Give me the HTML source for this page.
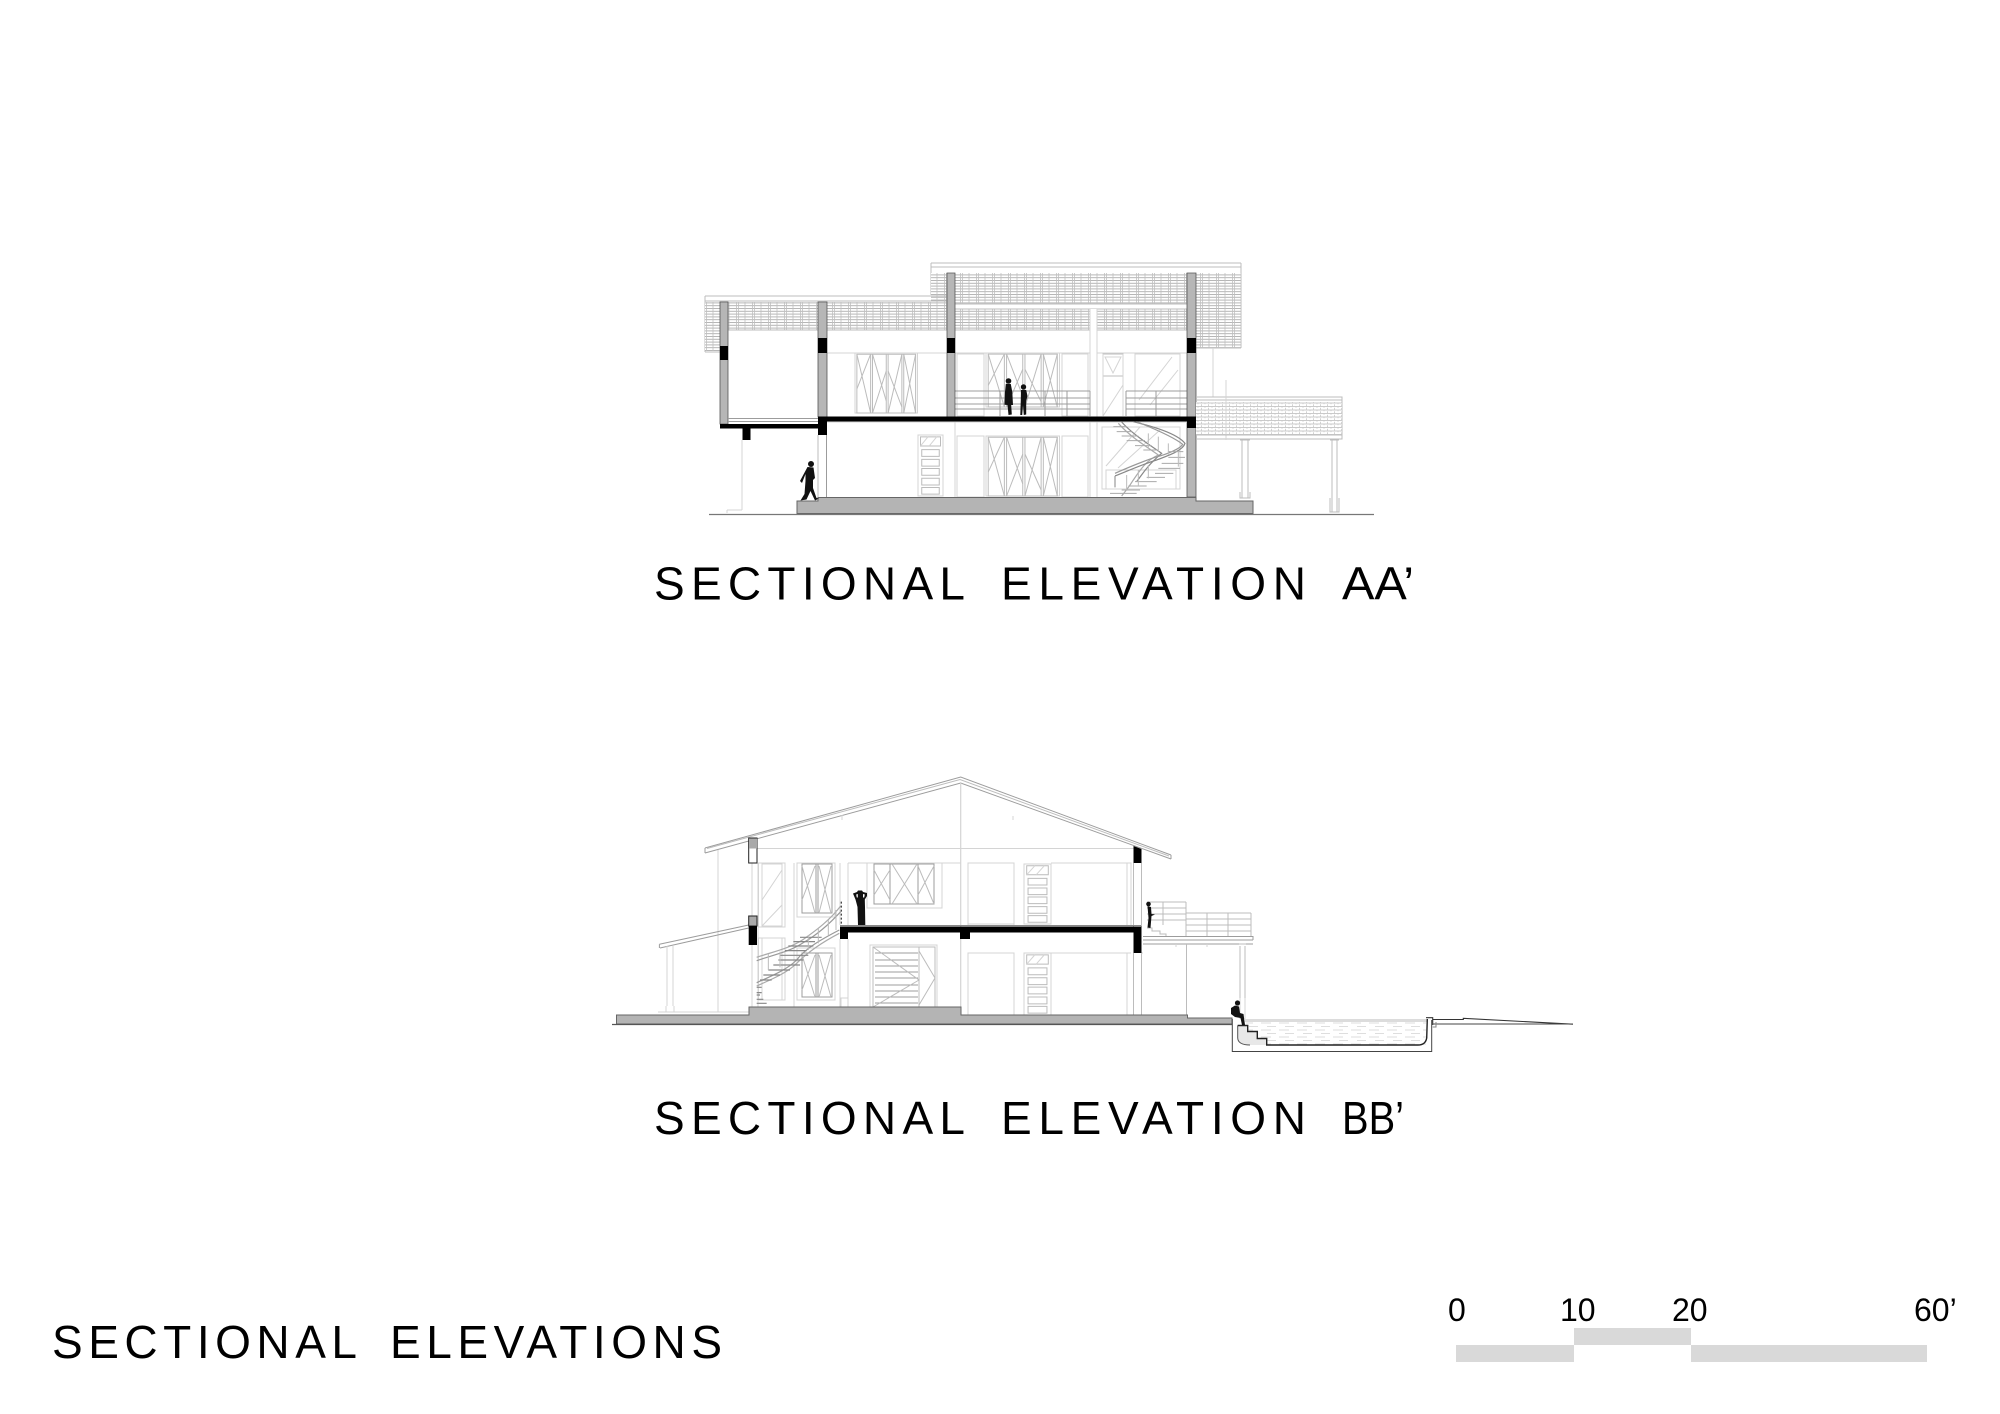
<!DOCTYPE html>
<html><head><meta charset="utf-8"><title>Sectional Elevations</title>
<style>
html,body{margin:0;padding:0;background:#fff;width:2000px;height:1414px;overflow:hidden}
svg{display:block}
text{font-family:"Liberation Sans",sans-serif;fill:#000}
.l{fill:none;stroke:#d4d4d4;stroke-width:1}
.m{fill:none;stroke:#bcbcbc;stroke-width:1}
.d{fill:none;stroke:#9c9c9c;stroke-width:1}
.k{fill:none;stroke:#555;stroke-width:1}
.g{fill:#b6b6b6;stroke:#555;stroke-width:.8}
.b{fill:#000}
.gr{fill:#b4b4b4;stroke:#666;stroke-width:1}
use,path,rect,line{vector-effect:non-scaling-stroke}
</style></head><body>
<svg width="2000" height="1414" viewBox="0 0 2000 1414" xmlns="http://www.w3.org/2000/svg">
<defs>
<pattern id="tile" patternUnits="userSpaceOnUse" width="16" height="2.800">
<rect width="16" height="2.800" fill="#fff"/><path d="M0 .5H16" stroke="#adadad" stroke-width=".9"/><path d="M.5 0V3M2.500 0V3M9 0V3" stroke="#c0c0c0" stroke-width=".8"/>
</pattern>
<pattern id="shing" patternUnits="userSpaceOnUse" width="7" height="3.500">
<rect width="7" height="3.500" fill="#fff"/><path d="M0 .5H7" stroke="#bdbdbd" stroke-width=".8"/><path d="M1 0V1.800M4.500 1.800V3.500" stroke="#c8c8c8" stroke-width=".8"/>
</pattern>
<pattern id="water" patternUnits="userSpaceOnUse" width="18" height="7">
<path d="M1 1H11M7 4.500H16" stroke="#dedede" stroke-width=".9"/>
</pattern>
<g id="win4">
<rect class="l" x="0" y="0" width="100" height="100"/>
<rect class="m" x="3" y="2" width="94" height="98"/>
<path class="m" d="M25 2V100M50 2V100M75 2V100M28 2V100M53 2V100M78 2V100"/>
<path class="m" d="M3 2L25 100M25 2L3 60M28 100L50 30M28 2L50 80M53 100L75 2M53 30L75 90M78 100L97 2M78 2L97 100"/>
</g>
<g id="slotdoor">
<rect class="l" x="0" y="0" width="100" height="100"/>
<rect class="m" x="10" y="3" width="80" height="15"/>
<path class="l" d="M10 18L40 3M45 18L75 3"/>
<rect class="m" x="15" y="24" width="70" height="11"/>
<rect class="m" x="15" y="40" width="70" height="11"/>
<rect class="m" x="15" y="55" width="70" height="11"/>
<rect class="m" x="15" y="71" width="70" height="11"/>
<rect class="m" x="15" y="86" width="70" height="11"/>
</g>
</defs>

<!-- ============ SECTION AA ============ -->
<!-- roofs -->
<rect x="931" y="263" width="310" height="85" fill="#fff"/>
<path class="m" d="M931 263H1241M931 267H1241M931 263V295M1241 263V348M1196 348H1241"/>
<rect x="931" y="273" width="310" height="31" fill="url(#tile)"/>
<rect x="955" y="309" width="286" height="21" fill="url(#tile)"/>
<rect x="1196" y="304" width="45" height="44" fill="url(#tile)"/>
<path class="m" d="M955 330H1187M955 304H1187M955 309H1187"/>
<path class="m" d="M705 296H947M705 301H947M705 296V352M705 352H720"/>
<rect x="705" y="302" width="242" height="28" fill="url(#tile)"/>
<rect x="705" y="330" width="15" height="21" fill="url(#tile)"/>
<path class="m" d="M728 330H947"/>
<rect x="1090" y="309" width="7" height="22" fill="#fff"/>
<path class="l" d="M1090 309V417M1097 309V417M1090 422V497M1097 422V497"/>

<!-- upper walls & windows -->
<path class="l" d="M827 353H947M955 353H1090M1097 353H1187M1213 348V397"/>
<use href="#win4" transform="translate(855 353) scale(.625 .6)"/>
<use href="#win4" transform="translate(986 353) scale(.735 .54)"/>
<rect class="l" x="957" y="354" width="27" height="62"/>
<rect class="l" x="1062" y="354" width="26" height="62"/>
<rect class="m" x="1103" y="354" width="20" height="22"/>
<path class="l" d="M1105 357H1121L1113 373ZM1103 354V416M1123 354V416M1103 416L1123 385"/>
<rect class="l" x="1135" y="354" width="45" height="62"/>
<path class="l" d="M1139 400L1172 357M1150 405L1178 370"/>

<!-- railings -->
<path class="d" d="M955 391H1090M955 398H1090M955 404H1090M955 409H1090"/>
<path class="d" d="M1000 391V416M1045 391V416M1067 391V416M1090 391V416"/>
<path class="d" d="M1126 391H1187M1126 398H1187M1126 404H1187M1126 409H1187M1126 391V416M1156 391V416"/>

<!-- columns -->
<rect class="g" x="720" y="302" width="8" height="122"/>
<rect class="g" x="818" y="302" width="9" height="115"/>
<rect class="g" x="947" y="273" width="8" height="144"/>
<rect class="g" x="1187" y="273" width="9" height="224"/>
<rect class="b" x="720" y="346" width="8" height="14"/>
<rect class="b" x="818" y="338" width="9" height="15"/>
<rect class="b" x="947" y="338" width="8" height="15"/>
<rect class="b" x="1187" y="338" width="9" height="15"/>

<!-- slabs -->
<rect class="b" x="818" y="416.500" width="378" height="6"/>
<rect class="b" x="818" y="416.500" width="9" height="18.500"/>
<rect class="b" x="1187" y="416.500" width="9" height="11.500"/>
<rect class="b" x="720" y="424" width="100" height="4.500"/>
<rect class="b" x="742.500" y="428" width="8" height="12"/>
<path class="d" d="M728 418.500H818M728 421.500H818"/>

<!-- lower walls -->
<path class="l" d="M742 440V510M727 510H742M727 513V510"/>
<path class="m" d="M818 435V497"/><path class="d" d="M826.500 435V497"/>
<path class="l" d="M955 422V497M827 422H1187"/>
<use href="#slotdoor" transform="translate(918 435) scale(.25 .61)"/>
<use href="#win4" transform="translate(986 436) scale(.735 .6)"/>
<rect class="l" x="957" y="436" width="27" height="61"/>
<rect class="l" x="1062" y="436" width="26" height="61"/>
<rect class="l" x="1102" y="427" width="78" height="62"/>
<rect class="l" x="1106" y="470" width="70" height="19"/>
<path class="l" d="M1106 466L1140 427M1118 468L1160 430"/>

<!-- spiral stair -->
<g transform="translate(1090 380) scale(.3333)" fill="none">
<path stroke="#aaa" stroke-width="1.200" d="M85 130C120 170 170 200 205 225C170 240 150 270 130 300C115 325 105 335 95 348"/>
<path stroke="#888" stroke-width="1.200" d="M95 126C130 165 180 195 215 220C180 250 165 270 140 305"/>
<path stroke="#888" stroke-width="1.200" d="M130 125C190 140 260 160 285 190C280 210 240 225 200 240C160 252 120 270 75 288"/>
<path stroke="#999" stroke-width="1.200" d="M140 125C190 145 250 170 278 193C272 205 235 222 195 232C160 244 120 260 75 280M75 288V322"/>
<path stroke="#aaa" stroke-width="1" d="M70 140H110M80 155H125M95 168H145M110 182H165M135 197H185M160 210H205M235 215H280M235 232H285M215 250H280M205 265H270M195 280H250M170 292H225M135 305H200M115 318H170M95 330H150M60 340H140"/>
<path stroke="#bbb" stroke-width="1" d="M175 160V205M205 170V215M235 190V225M265 215V260M175 255V295M145 270V320M110 285V330"/>
</g>

<!-- right porch -->
<path class="m" d="M1196 397H1342V439H1196M1196 400H1342"/>
<rect x="1196" y="402" width="146" height="33" fill="url(#shing)"/>
<path class="l" d="M1226 440V380M1226 380V397"/>
<path class="m" d="M1196 435H1342M1242 440V498M1248 440V498M1240 440H1250M1332 440V512M1337 440V512M1330 440H1339M1330 498V512H1339V498M1240 492V498H1250V492"/>

<!-- base -->
<path class="gr" d="M797 501H818V497.500H1196V501H1253V513.500H797Z"/>
<path d="M709 514.500H1374" stroke="#777" stroke-width="1.300"/>

<!-- people AA -->
<g fill="#111">
<circle cx="1008.500" cy="381" r="2.800"/>
<path d="M1005.800 384L1010.800 384L1012.300 392L1013 405L1011.200 405L1011.800 414.500L1008.500 415L1007.500 405L1004.500 404.800L1005 392Z"/>
<circle cx="1023.500" cy="387" r="2.700"/>
<path d="M1021 390L1026.200 390L1027.500 396L1026.200 401L1026.200 414.500L1023.800 415L1023 405L1022.200 415L1020.300 415L1020.800 400Z"/>
<circle cx="811" cy="464" r="3"/>
<path d="M807.500 467L813.500 467.500L815 478L813 480L813 488L816.500 498L819 498.500L815 500.500L810.500 491L806.500 499.500L800.500 500.500L804.500 494L805.500 481L805.500 474L802 483L800 481Z"/>
</g>

<!-- ============ SECTION BB ============ -->
<!-- roof -->
<path class="d" d="M705 848L960.700 777L1171 855M705 853L960.700 783L1171 859M705 848V853M1171 855V859"/>
<path class="m" d="M707 848.500L960 779.500L1169 856"/>
<path class="l" d="M960.700 783V1015M756 848.500H1133.500M718 850V1012M1013 816V820M842 815V820"/>
<path class="l" d="M960.700 783V1015"/>

<!-- walls -->
<path class="l" d="M752 863V1007M758 863V1007M794 863V1007M840 863V925M848 863V925M848 939V1007M840 939V1007M961 863H848M968 863V925M1014 863V925M968 863H1014M1051 863H1131V925M1127 863V925M1127 953V1015M1051 953H1131"/>
<path class="m" d="M1133.500 863V927M1141.500 863V927M1133.500 953V1015M1141.500 953V1015"/>

<!-- upper windows -->
<rect class="l" x="758.500" y="863" width="26.500" height="64"/>
<rect class="l" x="762" y="864" width="20" height="62"/>
<path class="l" d="M762 900L782 870M762 926L782 905"/>
<rect class="l" x="797" y="863" width="38" height="54"/>
<rect class="d" x="802" y="864" width="30" height="49"/>
<path class="d" d="M816 864V913M818 864V913"/>
<path class="m" d="M802 900L815 866M802 866L815 913M819 913L831 866M819 866L831 913"/>
<rect class="l" x="867" y="863" width="75" height="45"/>
<rect class="d" x="874" y="864" width="60" height="40"/>
<path class="d" d="M890 864V904M918 864V904"/>
<path class="m" d="M874 895L890 870M874 870L890 900M892 904L917 864M892 864L917 904M918 895L934 866M918 866L934 904"/>
<rect class="l" x="968" y="863" width="46" height="61"/>
<use href="#slotdoor" transform="translate(1024 864) scale(.27 .6)"/>

<!-- lower windows -->
<rect class="l" x="758.500" y="938" width="26.500" height="62"/>
<path class="l" d="M762 938V1000M782 938V1000"/>
<rect class="l" x="797" y="948" width="38" height="52"/>
<rect class="d" x="802" y="953" width="30" height="44"/>
<path class="d" d="M816 953V997M818 953V997"/>
<path class="m" d="M802 990L815 955M802 955L815 997M819 997L831 955M819 955L831 997"/>
<rect class="l" x="870" y="945" width="67" height="62"/>
<rect class="m" x="873" y="947" width="62" height="60"/>
<path class="d" d="M875 953H918M875 960H918M875 966H918M875 972H918M875 978H918M875 985H918M875 991H918M875 997H918M875 1003H918"/>
<path class="m" d="M919 947V1007M873 947L919 980L873 1007M919 951L935 978L919 1005"/>
<rect class="l" x="968" y="953" width="46" height="62"/>
<use href="#slotdoor" transform="translate(1024 953) scale(.27 .62)"/>
<rect class="l" x="841" y="998" width="7" height="9"/>

<!-- porch left -->
<path class="d" d="M659.400 944.300L748.700 925M660 948L748.700 928M659.400 944.300V948"/>
<path class="l" d="M667 946V1006M673 946V1006M666 1006V1012H674V1006M658 1012H749"/>

<!-- stair BB -->
<g transform="translate(750 880) scale(.3333)" fill="none">
<path stroke="#aaa" stroke-width="1.200" d="M20 232C70 215 120 205 160 178C200 150 240 120 272 78"/>
<path stroke="#999" stroke-width="1.200" d="M20 242C70 225 120 215 160 188C200 165 240 130 272 95"/>
<path stroke="#999" stroke-width="1.200" d="M20 308C60 290 110 270 140 240C165 205 220 175 268 150"/>
<path stroke="#aaa" stroke-width="1.200" d="M20 318C60 300 110 280 140 250C175 215 220 185 268 160"/>
<path stroke="#888" stroke-width="1.200" d="M150 172H215M130 185H195M115 198H190M105 212H170M90 226H175M85 240H160M70 255H150M55 270H120M40 285H90M30 300H65M20 322H35M20 338H35M20 345H30M20 358H40M20 370H50"/>
<path stroke="#bbb" stroke-width="1" d="M55 222V270M90 215V262M175 165V210M205 145V190M235 120V165M258 90V150"/>
<path stroke="#444" stroke-width="1.300" stroke-dasharray="2 2" d="M274 65V135"/>
</g>

<!-- terrace -->
<path class="d" d="M1143 936.500H1253M1143 940H1253M1143 944H1253M1253 936V940"/>
<path class="m" d="M1147 902H1186M1147 908H1186M1147 914H1186M1147 920H1186M1163 902V925M1186 902V936M1186 913H1251M1186 919H1251M1186 925H1251M1186 931H1251M1207 913V936M1228 913V936M1251 913V936"/>
<path class="m" d="M1147 928H1152V931H1160V934H1166V936"/>
<path class="m" d="M1186.500 944V1018M1240 946V1018M1245 946V1018M1239 944H1246"/>
<path class="l" d="M1141 953H1143M1176 944V947M1207 944V947"/>

<!-- columns BB -->
<rect x="748.700" y="838" width="8.300" height="25" fill="#fff" stroke="#222" stroke-width="1"/>
<rect x="749" y="838.500" width="8" height="10" fill="#aaa"/>
<rect x="748.700" y="916" width="8.300" height="10" fill="#aaa" stroke="#222" stroke-width="1"/>
<rect class="b" x="748.700" y="926" width="8.300" height="19"/>
<path class="b" d="M1133.500 846L1141.500 849V863H1133.500Z"/>
<rect class="b" x="1133.500" y="927" width="8" height="26"/>
<rect class="b" x="840" y="926.500" width="301.500" height="6"/>
<rect class="b" x="840" y="926.500" width="8" height="12.500"/>
<rect class="b" x="960" y="932" width="10" height="7"/>
<path d="M840 925.500H1141" stroke="#888" stroke-width="1"/>

<!-- base BB -->
<path class="gr" d="M616.500 1015H749V1007H961V1015H1187.500V1018H1232V1024H616.500Z"/>
<path d="M612 1024.500H1232" stroke="#555" stroke-width="1.300"/>

<!-- pool -->
<rect x="1245" y="1019" width="182" height="3" fill="#dcdcdc"/>
<rect x="1246" y="1021" width="180" height="24" fill="url(#water)"/>
<path d="M1232.300 1019V1051.500H1431.700V1020" fill="none" stroke="#444" stroke-width="1"/>
<path d="M1237.700 1025.500V1038C1238 1043 1243 1045 1250 1045H1266.700V1038.500H1257.300V1031.500H1247.700V1025.500Z" fill="#e8e8e8"/>
<path d="M1237.700 1025.500V1038C1238 1043 1243 1045 1250 1045" fill="none" stroke="#555" stroke-width="1"/>
<path d="M1237.700 1025.500H1247.700V1031.500H1257.300V1038.500H1266.700V1045H1418C1424 1045 1426 1042 1426.700 1038L1427.300 1019" fill="none" stroke="#222" stroke-width="1.400"/>
<path d="M1426 1017.700H1432.700V1025M1433 1019.500H1463.300V1018.300L1573 1024.200" fill="none" stroke="#333" stroke-width="1.100"/>
<path d="M1432.700 1024H1573" stroke="#444" stroke-width="1.100"/>
<path d="M1432.700 1027H1436V1022" fill="none" stroke="#888" stroke-width="1"/>
<rect x="1233" y="1010" width="4" height="8" fill="#fff"/>
<path class="l" d="M1240 998V1019M1245 998V1019"/>

<!-- people BB -->
<g fill="#111">
<path d="M853 893.500L857 892L858 890.500L862 890.500L863 892L867 893L867 896L864.800 899.500L865 907L865.300 925H858L857.500 907L855.500 899.500Z"/>
<path fill="#fff" d="M856.200 894.500L857.800 894L857.800 897.500L856.800 897.500ZM863 894L864.800 894.500L864.200 897.500L863 897.500Z"/>
<circle cx="1148.500" cy="904" r="2.300"/>
<path d="M1147.500 906L1151 907L1151.500 914L1155 914.500L1151.500 916L1151 922L1150.500 928L1147.500 927.500L1148.500 918Z"/>
<circle cx="1237.500" cy="1003" r="2.600"/>
<path d="M1231 1008L1235 1005.500L1239 1006.500L1240 1013L1243.500 1014L1245 1025H1242L1240.500 1018L1235 1017L1231 1014Z"/>
</g>

<!-- ============ TEXT ============ -->
<text x="654" y="599.500" font-size="46" textLength="311" lengthAdjust="spacing">SECTIONAL</text>
<text x="1001" y="599.500" font-size="46" textLength="305" lengthAdjust="spacing">ELEVATION</text>
<text x="1342" y="599.500" font-size="46" textLength="72" lengthAdjust="spacingAndGlyphs">AA’</text>
<text x="654" y="1134" font-size="46" textLength="311" lengthAdjust="spacing">SECTIONAL</text>
<text x="1001" y="1134" font-size="46" textLength="305" lengthAdjust="spacing">ELEVATION</text>
<text x="1342" y="1134" font-size="46" textLength="62" lengthAdjust="spacingAndGlyphs">BB’</text>
<text x="52" y="1358" font-size="46" textLength="305" lengthAdjust="spacing">SECTIONAL</text>
<text x="390" y="1358" font-size="46" textLength="332" lengthAdjust="spacing">ELEVATIONS</text>
<text x="1448" y="1321" font-size="32">0</text>
<text x="1560" y="1321" font-size="32">10</text>
<text x="1672" y="1321" font-size="32">20</text>
<text x="1914" y="1321" font-size="32">60’</text>
<rect x="1456" y="1345" width="118" height="17" fill="#d9d9d9"/>
<rect x="1574" y="1328" width="117" height="17" fill="#d9d9d9"/>
<rect x="1691" y="1345" width="236" height="17" fill="#d9d9d9"/>
</svg>
</body></html>
